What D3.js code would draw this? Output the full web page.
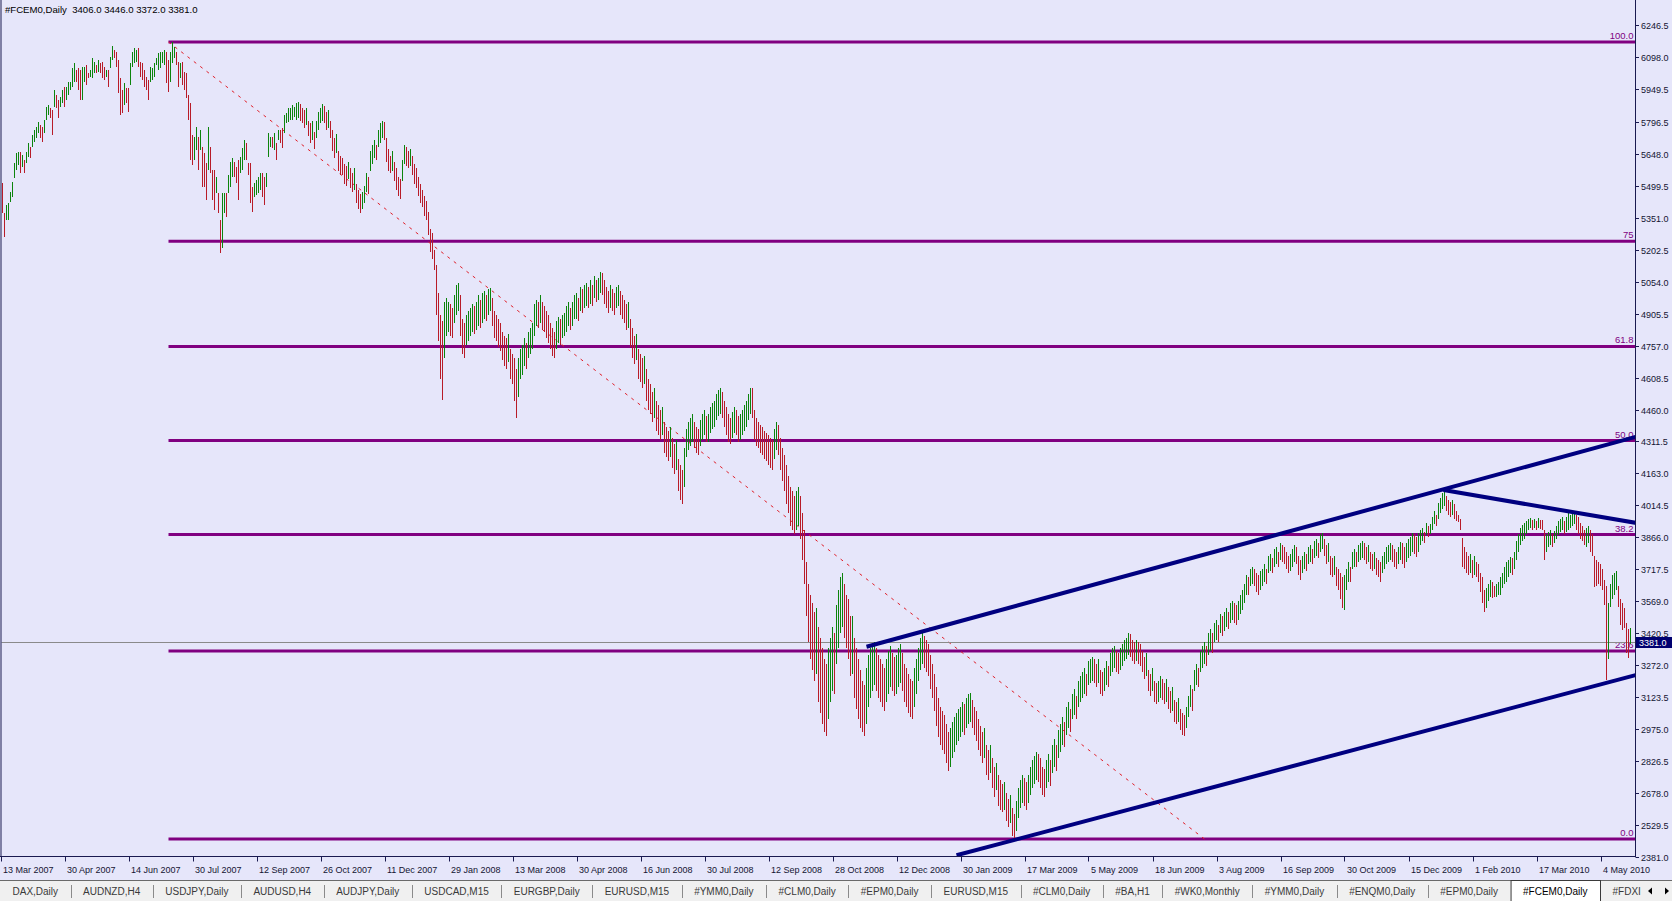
<!DOCTYPE html>
<html><head><meta charset="utf-8">
<script src="https://cdn.jsdelivr.net/npm/d3@7"></script>
<style>html,body{margin:0;padding:0;background:#E6E6FA;overflow:hidden}svg{display:block}</style>
</head><body><svg id="c" width="1672" height="901"></svg>
<script>
// ---------------- DATA ----------------
const symbolTitle = "#FCEM0,Daily  3406.0 3446.0 3372.0 3381.0";
const priceTicks = [6246.5,6098.0,5949.5,5796.5,5648.0,5499.5,5351.0,5202.5,5054.0,4905.5,4757.0,4608.5,4460.0,4311.5,4163.0,4014.5,3866.0,3717.5,3569.0,3420.5,3272.0,3123.5,2975.0,2826.5,2678.0,2529.5,2381.0];
const dateLabels = ["13 Mar 2007","30 Apr 2007","14 Jun 2007","30 Jul 2007","12 Sep 2007","26 Oct 2007","11 Dec 2007","29 Jan 2008","13 Mar 2008","30 Apr 2008","16 Jun 2008","30 Jul 2008","12 Sep 2008","28 Oct 2008","12 Dec 2008","30 Jan 2009","17 Mar 2009","5 May 2009","18 Jun 2009","3 Aug 2009","16 Sep 2009","30 Oct 2009","15 Dec 2009","1 Feb 2010","17 Mar 2010","4 May 2010"];
const barsPerDateLabel = 32;
const highs = [
5511,5371,5410,5418,5472,5519,5604,5650,5658,5658,
5643,5619,5658,5697,5681,5736,5759,5774,5798,5782,
5774,5805,5867,5875,5859,5852,5945,5921,5898,5914,
5945,5960,5960,5983,5983,6045,6068,6038,6045,6038,
6053,6053,6061,6022,6038,6092,6076,6061,6084,6068,
6076,6053,6038,6038,6099,6149,6131,6123,6084,5999,
5945,5976,5952,5952,6068,6123,6138,6131,6138,6076,
6068,6038,6007,5991,6053,6045,6068,6092,6115,6123,
6123,6131,6123,6084,6123,6167,6146,6123,6076,6068,
6076,6030,6022,5921,5883,5735,5728,5774,5728,5759,
5681,5650,5604,5774,5681,5573,5573,5542,5464,5340,
5464,5464,5464,5550,5612,5627,5612,5588,5619,5635,
5674,5712,5697,5604,5604,5495,5511,5526,5542,5557,
5557,5542,5557,5743,5728,5728,5743,5697,5759,5759,
5766,5828,5836,5859,5859,5875,5867,5883,5890,5880,
5860,5850,5860,5800,5790,5800,5750,5800,5840,5860,
5880,5870,5840,5850,5800,5760,5720,5740,5660,5640,
5630,5600,5590,5610,5580,5560,5580,5510,5480,5460,
5470,5500,5560,5540,5660,5690,5710,5690,5760,5790,
5800,5795,5720,5670,5640,5660,5610,5580,5540,5530,
5620,5690,5680,5660,5670,5640,5600,5580,5540,5510,
5480,5450,5430,5380,5300,5280,5200,5130,5000,4900,
4870,4960,4980,4960,4950,4930,4990,5040,5050,4990,
4880,4860,4900,4920,4930,4950,4940,4960,4990,4970,
5000,5010,4990,5020,5025,4980,4920,4900,4880,4860,
4820,4800,4790,4810,4740,4720,4700,4650,4700,4740,
4760,4790,4770,4820,4840,4860,4950,4970,4960,4990,
4960,4940,4920,4900,4860,4840,4820,4870,4890,4880,
4900,4910,4940,4960,4930,4960,4990,5000,4980,5030,
5020,5040,5050,5030,5060,5040,5080,5060,5070,5100,
5095,5060,5030,5010,5040,5020,5000,5030,5040,5010,
4990,4970,4950,4960,4880,4840,4800,4810,4740,4720,
4700,4710,4650,4600,4580,4540,4560,4500,4480,4460,
4470,4400,4380,4360,4380,4330,4300,4320,4230,4200,
4180,4280,4370,4400,4420,4440,4400,4380,4370,4410,
4440,4460,4430,4440,4470,4490,4500,4530,4550,4560,
4540,4500,4470,4440,4420,4450,4470,4460,4430,4440,
4460,4480,4500,4530,4560,4560,4460,4420,4400,4390,
4380,4360,4350,4340,4330,4320,4370,4400,4390,4330,
4280,4250,4200,4150,4100,4080,4060,4080,4100,4060,
3980,3900,3750,3650,3600,3560,3520,3540,3450,3400,
3350,3300,3280,3350,3400,3450,3420,3550,3620,3680,
3700,3650,3600,3580,3500,3500,3400,3350,3300,3250,
3200,3180,3260,3320,3350,3360,3380,3350,3320,3300,
3280,3260,3300,3340,3360,3330,3310,3320,3350,3370,
3330,3280,3260,3230,3210,3200,3260,3300,3350,3400,
3425,3410,3390,3370,3320,3280,3230,3170,3120,3080,
3060,3040,3000,2960,2980,3010,3030,3050,3070,3080,
3100,3090,3120,3140,3143,3110,3080,3060,3020,2990,
2960,2980,2900,2880,2900,2840,2800,2820,2760,2740,
2720,2730,2680,2650,2670,2610,2580,2640,2700,2740,
2760,2750,2730,2760,2800,2830,2850,2870,2860,2840,
2800,2790,2830,2860,2830,2900,2930,2900,2970,3000,
3030,3010,3080,3100,3070,3140,3160,3130,3200,3220,
3240,3260,3230,3290,3300,3310,3300,3280,3300,3250,
3240,3260,3290,3270,3330,3350,3360,3340,3330,3350,
3370,3390,3400,3420,3415,3390,3380,3390,3380,3370,
3340,3310,3330,3250,3230,3260,3200,3190,3200,3220,
3210,3190,3210,3170,3150,3170,3110,3100,3120,3070,
3050,3040,3080,3130,3180,3160,3250,3280,3260,3340,
3360,3380,3360,3420,3440,3420,3470,3480,3460,3510,
3500,3520,3540,3520,3560,3570,3560,3550,3570,3600,
3620,3650,3690,3680,3720,3730,3720,3700,3690,3710,
3720,3740,3720,3780,3790,3770,3810,3820,3800,3840,
3830,3820,3800,3780,3790,3810,3830,3820,3780,3760,
3780,3800,3790,3820,3830,3810,3850,3860,3840,3880,
3886,3860,3830,3840,3780,3770,3780,3730,3720,3700,
3680,3690,3720,3750,3730,3800,3810,3800,3830,3840,
3850,3840,3820,3830,3800,3790,3800,3770,3760,3750,
3780,3800,3820,3830,3840,3830,3810,3800,3820,3846,
3840,3820,3840,3860,3870,3885,3880,3870,3885,3900,
3910,3890,3931,3920,3930,3960,3990,3970,4024,4050,
4070,4086,4060,4040,4030,4040,4020,3990,3970,3950,
3861,3823,3800,3780,3790,3760,3780,3750,3740,3700,
3683,3620,3630,3650,3668,3660,3640,3650,3660,3680,
3700,3730,3750,3760,3776,3770,3800,3850,3880,3910,
3925,3931,3940,3950,3954,3945,3950,3940,3954,3948,
3945,3900,3880,3890,3900,3880,3895,3920,3940,3950,
3960,3940,3960,3978,3970,3975,3990,3970,3960,3931,
3920,3900,3910,3920,3900,3880,3780,3761,3750,3740,
3720,3668,3640,3560,3650,3690,3699,3710,3640,3580,
3560,3540,3470,3440,3446];
const lows = [
5371,5263,5340,5340,5426,5449,5534,5573,5596,5557,
5588,5557,5604,5635,5627,5681,5705,5720,5743,5720,
5705,5743,5805,5828,5813,5736,5867,5859,5813,5867,
5883,5867,5898,5921,5945,5960,5983,5983,5945,5898,
5898,5983,5968,5999,6007,5999,6022,6022,6030,6022,
5999,5991,6007,5960,6045,6084,6092,6053,5929,5828,
5836,5875,5883,5844,5968,6053,6068,6076,6053,6007,
5991,5960,5945,5898,5983,5991,6007,6061,6038,6045,
6068,6061,5976,5937,5983,6068,6092,6061,5960,5999,
5968,5945,5906,5805,5619,5596,5619,5666,5573,5666,
5495,5495,5433,5573,5557,5433,5387,5464,5371,5186,
5209,5371,5356,5464,5495,5542,5542,5511,5433,5557,
5573,5619,5619,5550,5418,5379,5449,5457,5464,5480,
5449,5410,5495,5635,5681,5674,5666,5619,5712,5697,
5674,5743,5790,5797,5805,5805,5821,5805,5813,5800,
5790,5770,5780,5730,5700,5710,5670,5720,5760,5790,
5800,5790,5760,5770,5720,5660,5630,5650,5570,5550,
5550,5510,5500,5530,5490,5470,5480,5420,5390,5372,
5390,5420,5470,5460,5570,5600,5630,5620,5680,5700,
5720,5710,5610,5570,5560,5570,5520,5480,5450,5440,
5520,5600,5590,5580,5590,5550,5510,5490,5450,5420,
5400,5360,5340,5270,5190,5160,5110,4900,4780,4600,
4505,4700,4800,4820,4800,4790,4860,4900,4920,4800,
4720,4700,4760,4780,4800,4820,4810,4830,4850,4840,
4860,4880,4870,4900,4920,4850,4790,4780,4750,4730,
4690,4660,4650,4680,4600,4580,4500,4420,4520,4600,
4620,4660,4650,4700,4720,4740,4800,4850,4840,4860,
4830,4820,4790,4770,4740,4710,4700,4740,4770,4760,
4790,4800,4820,4850,4830,4850,4880,4880,4870,4920,
4910,4930,4940,4930,4950,4940,4980,4960,4970,5000,
4990,4950,4930,4910,4930,4920,4900,4930,4940,4900,
4880,4860,4830,4840,4750,4700,4670,4690,4600,4590,
4560,4580,4500,4460,4440,4400,4420,4360,4340,4320,
4340,4260,4240,4220,4240,4190,4160,4180,4080,4040,
4020,4100,4240,4270,4290,4310,4280,4260,4250,4290,
4320,4340,4310,4310,4350,4370,4380,4410,4430,4440,
4420,4380,4340,4310,4300,4330,4350,4340,4310,4320,
4340,4360,4380,4410,4440,4420,4320,4290,4280,4260,
4250,4230,4220,4200,4190,4180,4230,4270,4250,4180,
4130,4080,4020,3980,3920,3900,3880,3900,3920,3860,
3760,3650,3500,3380,3300,3250,3200,3230,3100,3050,
3000,2960,2945,3020,3100,3150,3140,3280,3350,3420,
3450,3400,3350,3300,3220,3230,3120,3070,3020,2980,
2960,2945,3000,3080,3120,3150,3180,3150,3120,3100,
3080,3060,3100,3140,3170,3150,3130,3140,3170,3190,
3150,3100,3080,3050,3030,3020,3080,3140,3200,3250,
3280,3260,3240,3220,3160,3120,3060,2990,2940,2900,
2880,2860,2820,2780,2800,2840,2870,2900,2920,2940,
2960,2950,2980,3000,3010,2980,2950,2920,2880,2850,
2820,2840,2760,2740,2770,2700,2660,2690,2620,2600,
2590,2600,2550,2520,2540,2480,2470,2500,2560,2610,
2630,2620,2600,2630,2670,2700,2720,2740,2730,2700,
2670,2660,2700,2730,2710,2770,2800,2780,2840,2870,
2900,2890,2950,2980,2960,3020,3040,3020,3080,3100,
3120,3140,3130,3180,3190,3200,3190,3170,3190,3140,
3130,3150,3180,3170,3220,3240,3260,3240,3230,3250,
3270,3290,3300,3320,3310,3290,3280,3290,3280,3270,
3240,3210,3220,3150,3130,3150,3100,3090,3100,3120,
3110,3090,3100,3070,3050,3060,3010,3000,3010,2970,
2950,2945,2980,3030,3080,3060,3150,3180,3170,3240,
3260,3280,3270,3320,3340,3330,3380,3390,3380,3420,
3410,3430,3450,3440,3470,3480,3470,3460,3480,3510,
3530,3560,3600,3600,3640,3650,3640,3610,3600,3620,
3640,3660,3650,3700,3710,3700,3730,3740,3730,3760,
3750,3740,3720,3700,3710,3730,3750,3740,3690,3670,
3700,3720,3710,3740,3750,3740,3770,3780,3770,3800,
3810,3780,3740,3750,3690,3680,3690,3640,3620,3580,
3540,3530,3620,3660,3660,3720,3730,3730,3750,3760,
3770,3760,3740,3750,3720,3710,3720,3690,3680,3660,
3700,3720,3740,3750,3760,3750,3730,3720,3740,3760,
3740,3722,3750,3770,3780,3800,3790,3776,3800,3830,
3850,3840,3877,3870,3880,3900,3930,3920,3950,3980,
4000,4010,3990,3970,3960,3970,3950,3940,3939,3900,
3730,3720,3700,3690,3700,3675,3690,3680,3660,3610,
3560,3521,3540,3570,3590,3582,3590,3590,3600,3600,
3630,3650,3660,3680,3700,3690,3720,3760,3800,3830,
3850,3860,3880,3900,3910,3900,3908,3900,3908,3905,
3900,3761,3800,3820,3830,3820,3840,3860,3877,3890,
3900,3880,3890,3900,3910,3920,3930,3900,3880,3860,
3850,3830,3820,3840,3799,3780,3637,3640,3650,3640,
3621,3550,3203,3300,3544,3580,3600,3620,3544,3460,
3436,3443,3330,3304,3372];
const lastPrice = 3381.0;
const fibLevels = [0, 23.6, 38.2, 50, 61.8, 75, 100];
const fibLabels = ["0.0","23.6","38.2","50.0","61.8","75","100.0"];
const fibStartBar = 83, fibEndBar = 601;
const fibHighPrice = 6167.5, fibLowPrice = 2464.6;
const trendStartBars = [432, 477, 720.5];
const trendStartPrices = [3358, 2389, 4086];
const trendEndBars = [817, 817, 817];
const trendEndPrices = [4334, 3227, 3933];
const tabNames = ["DAX,Daily","AUDNZD,H4","USDJPY,Daily","AUDUSD,H4","AUDJPY,Daily","USDCAD,M15","EURGBP,Daily","EURUSD,M15","#YMM0,Daily","#CLM0,Daily","#EPM0,Daily","EURUSD,M15","#CLM0,Daily","#BA,H1","#WK0,Monthly","#YMM0,Daily","#ENQM0,Daily","#EPM0,Daily","#FCEM0,Daily","#FDXI"];
const activeTab = "#FCEM0,Daily";

// ---------------- LAYOUT ----------------
const W = 1672, H = 901;
const axisX = 1635.5, plotBottom = 856.5;
const BG = "#E6E6FA", UP = "#0c840c", DOWN = "#b81c28";
const FIB = "#800080", TREND = "#000080", AXIS = "#1a1a50", TXT = "#141432";
const FONT = "'Liberation Sans', Arial, sans-serif";

const svg = d3.select("#c");
svg.append("rect").attr("width", W).attr("height", H).attr("fill", BG);

const x = d3.scaleLinear().domain([0, highs.length - 1]).range([2.5, 2.5 + 2 * (highs.length - 1)]);
const y = d3.scaleLinear().domain([2381, 6246.5]).range([857, 25]);

svg.append("defs").append("clipPath").attr("id", "clip")
  .append("rect").attr("x", 1.5).attr("y", 0).attr("width", axisX - 1.5).attr("height", plotBottom);
const plot = svg.append("g").attr("clip-path", "url(#clip)");

// Fibonacci retracement (background object)
const fibValue = l => fibLowPrice + (fibHighPrice - fibLowPrice) * l / 100;
plot.selectAll("line.fib").data(fibLevels).join("line").attr("class", "fib")
  .attr("x1", x(fibStartBar)).attr("x2", axisX)
  .attr("y1", d => y(fibValue(d))).attr("y2", d => y(fibValue(d)))
  .attr("stroke", FIB).attr("stroke-width", 3);
plot.append("line")
  .attr("x1", x(fibStartBar)).attr("y1", y(fibHighPrice))
  .attr("x2", x(fibEndBar)).attr("y2", y(fibLowPrice))
  .attr("stroke", "#e0202a").attr("stroke-width", 1).attr("stroke-dasharray", "3,5");
plot.selectAll("text.fibl").data(fibLevels).join("text").attr("class", "fibl")
  .attr("x", axisX - 2).attr("y", d => y(fibValue(d)) - 3)
  .attr("text-anchor", "end").attr("font-family", FONT).attr("font-size", 9.5)
  .attr("fill", FIB).text((d, i) => fibLabels[i]);

// current price line
const lpY = Math.round(y(lastPrice)) + 0.5;
plot.append("line").attr("x1", 0).attr("x2", axisX).attr("y1", lpY).attr("y2", lpY)
  .attr("stroke", "#8a8a8a").attr("stroke-width", 1);

// bars (high-low lines)
const mids = highs.map((h, i) => (h + lows[i]) / 2);
plot.append("g").attr("shape-rendering", "crispEdges")
  .selectAll("line").data(highs).join("line")
  .attr("x1", (d, i) => x(i)).attr("x2", (d, i) => x(i))
  .attr("y1", d => y(d)).attr("y2", (d, i) => y(lows[i]))
  .attr("stroke", (d, i) => (i > 0 && mids[i] >= mids[i - 1]) ? UP : DOWN)
  .attr("stroke-width", 1);

// trend lines
plot.selectAll("line.trend").data(trendStartBars).join("line").attr("class", "trend")
  .attr("x1", (d) => x(d)).attr("y1", (d, i) => y(trendStartPrices[i]))
  .attr("x2", (d, i) => x(trendEndBars[i])).attr("y2", (d, i) => y(trendEndPrices[i]))
  .attr("stroke", TREND).attr("stroke-width", 4);

// frame
svg.append("line").attr("x1", 1).attr("x2", 1).attr("y1", 0).attr("y2", plotBottom).attr("stroke", AXIS);
svg.append("line").attr("x1", 0).attr("x2", axisX).attr("y1", plotBottom).attr("y2", plotBottom).attr("stroke", AXIS);
svg.append("line").attr("x1", axisX).attr("x2", axisX).attr("y1", 0).attr("y2", plotBottom + 0.5).attr("stroke", AXIS);

// price axis
const pa = svg.append("g");
pa.selectAll("line").data(priceTicks).join("line")
  .attr("x1", axisX).attr("x2", axisX + 3.5)
  .attr("y1", d => Math.round(y(d)) + 0.5).attr("y2", d => Math.round(y(d)) + 0.5)
  .attr("stroke", AXIS);
pa.selectAll("text").data(priceTicks).join("text")
  .attr("x", 1641).attr("y", d => Math.round(y(d)) + 3.5)
  .attr("font-family", FONT).attr("font-size", 9).attr("fill", TXT)
  .text(d => d.toFixed(1));

// last price tag
svg.append("rect").attr("x", 1636).attr("y", lpY - 5.5).attr("width", 36).attr("height", 11).attr("fill", "#000070");
svg.append("text").attr("x", 1639).attr("y", lpY + 3.5).attr("font-family", FONT).attr("font-size", 9)
  .attr("fill", "#ffffff").text(lastPrice.toFixed(1));

// date axis
const da = svg.append("g");
da.selectAll("line").data(dateLabels).join("line")
  .attr("x1", (d, k) => Math.round(x(k * barsPerDateLabel)) - 1.5).attr("x2", (d, k) => Math.round(x(k * barsPerDateLabel)) - 1.5)
  .attr("y1", plotBottom).attr("y2", plotBottom + 5).attr("stroke", AXIS);
da.selectAll("text").data(dateLabels).join("text")
  .attr("x", (d, k) => x(k * barsPerDateLabel) + 0.5).attr("y", 873)
  .attr("font-family", FONT).attr("font-size", 9).attr("fill", TXT).text(d => d);

// title
svg.append("text").attr("x", 5).attr("y", 13).attr("font-family", FONT).attr("font-size", 9.6)
  .attr("fill", "#000").style("white-space", "pre").text(symbolTitle);

// tabs
const tg = svg.append("g");
tg.append("rect").attr("x", 0).attr("y", 881).attr("width", W).attr("height", 20).attr("fill", "#F0F0F0");
tg.append("line").attr("x1", 0).attr("x2", W).attr("y1", 880.5).attr("y2", 880.5).attr("stroke", "#6a6a6a");
const activeIdx = tabNames.indexOf(activeTab);
const tabTexts = tg.selectAll("text.tab").data(tabNames).join("text").attr("class", "tab")
  .attr("y", 895).attr("font-family", FONT).attr("font-size", 10).attr("fill", "#333")
  .attr("text-anchor", "middle").text(d => d);
const tw = tabTexts.nodes().map(n => n.getComputedTextLength());
const activeEnd = 1600;
const pad = (activeEnd - d3.sum(tw.slice(0, activeIdx + 1))) / (activeIdx + 1);
let cx = 0; const starts = [];
tw.forEach((w, i) => { starts.push(cx); cx += w + pad; });
const aS = starts[activeIdx], aE = starts[activeIdx] + tw[activeIdx] + pad;
tg.insert("rect", "text").attr("x", aS + 0.5).attr("y", 880.5).attr("width", aE - aS).attr("height", 21)
  .attr("fill", "#ffffff").attr("stroke", "#3a3a3a");
tabTexts.attr("x", (d, i) => starts[i] + (tw[i] + pad) / 2).attr("fill", (d, i) => i === activeIdx ? "#000" : "#3a3a3a");
tg.selectAll("line.sep").data(starts.slice(1).filter((s, i) => i + 1 !== activeIdx && i !== activeIdx)).join("line").attr("class", "sep")
  .attr("x1", d => Math.round(d) + 0.5).attr("x2", d => Math.round(d) + 0.5).attr("y1", 885).attr("y2", 898)
  .attr("stroke", "#8a8a8a");
tg.append("rect").attr("x", 1644).attr("y", 881).attr("width", 28).attr("height", 20).attr("fill", "#F0F0F0");
tg.append("path").attr("d", "M1648,891 L1652,887.5 L1652,894.5 Z").attr("fill", "#000");
tg.append("path").attr("d", "M1669,891 L1665,887.5 L1665,894.5 Z").attr("fill", "#000");
</script>
</body></html>
